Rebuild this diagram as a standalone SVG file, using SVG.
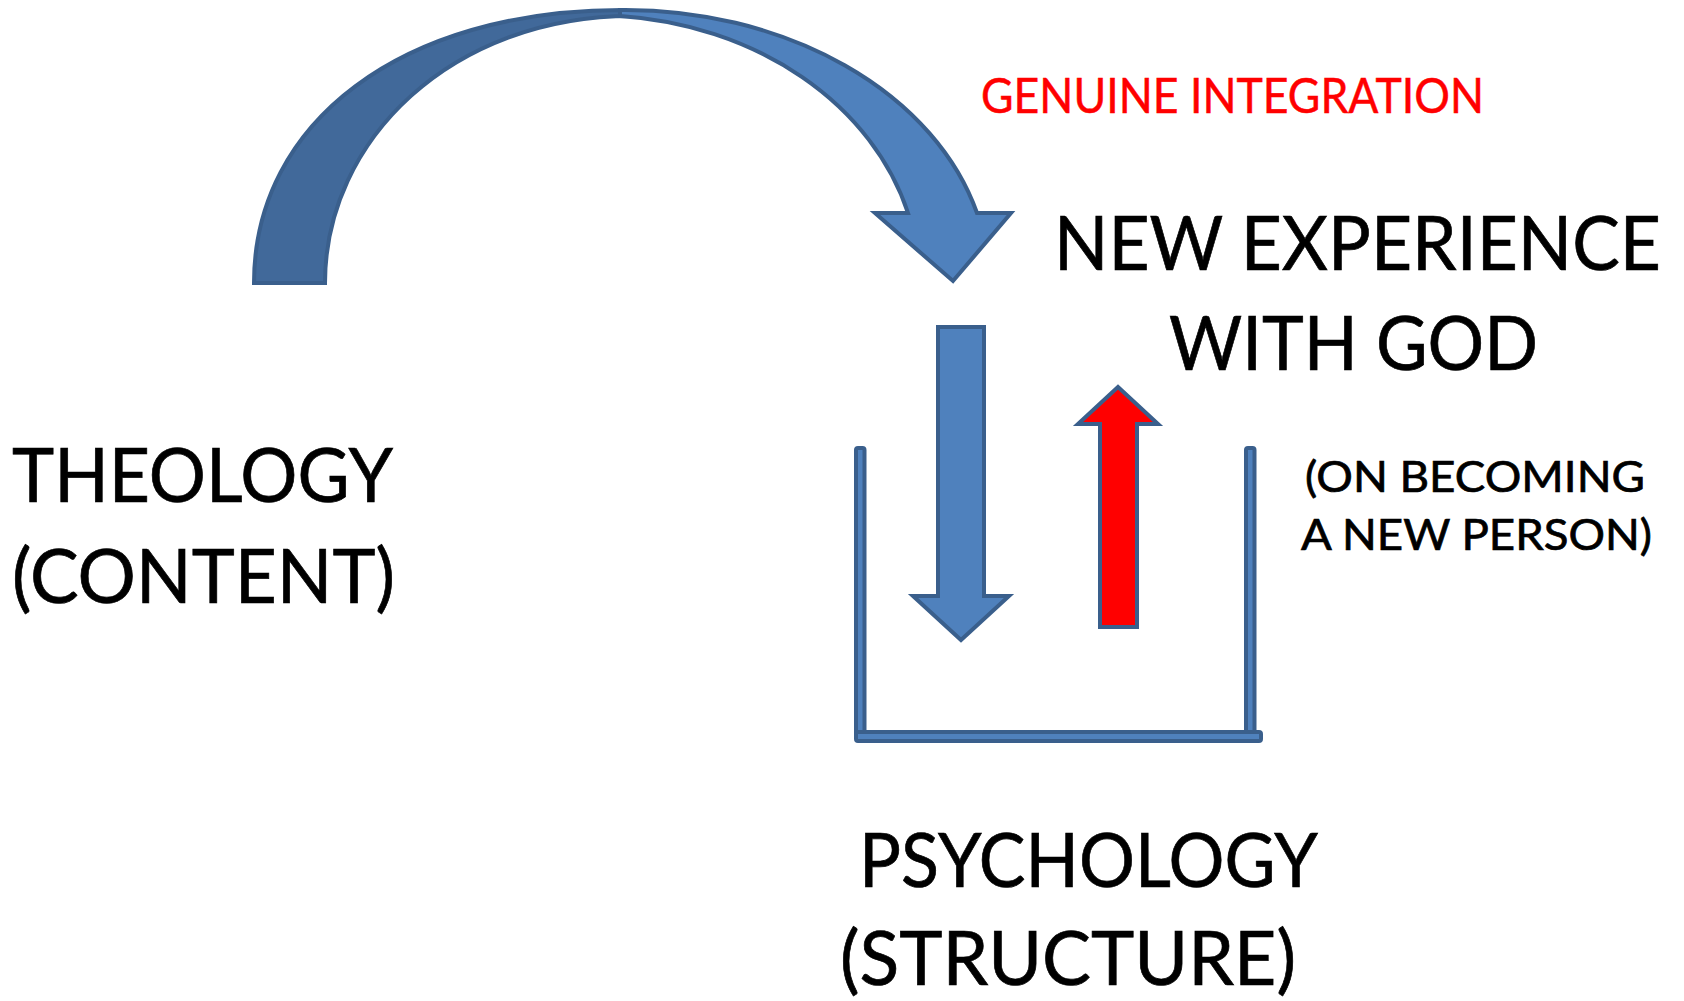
<svg xmlns="http://www.w3.org/2000/svg" width="1684" height="1001" viewBox="0 0 1684 1001">
<style>
.shape{stroke:#3A5F8C;stroke-width:4;stroke-linejoin:miter}
.blue{fill:#4F81BD}
.shade{fill:#41699A}
.red{fill:#FF0000}
.t{font-family:Lato,"Open Sans","Liberation Sans",sans-serif;fill:#000;stroke:#000;stroke-width:0.7}
.big{font-size:76px}
.mid{font-size:47.5px}
.small{font-size:43px}
.genuine{fill:#FF0000;stroke:#FF0000;stroke-width:0.5}
</style>
<rect width="1684" height="1001" fill="#FFFFFF"/>
<g id="connectors">
  <g id="curved-arrow">
    <path class="shape shade" d="M254,283 C254,122 402,10 622,10 L632,16 C452,16 325,140 325,283 Z"/>
    <path class="shape blue" d="M620,10 A364,273 0 0 1 977,213 L1011,213 L953,281 L875,213 L908,213 A325,268 0 0 0 620,16 Z"/>
  </g>
  <path id="down-arrow" class="shape blue" d="M938,327 H984 V596 H1009 L961,640 L913,596 H938 Z"/>
  <path id="up-arrow" class="shape red" d="M1100,627 V424 H1078 L1118,387 L1158,424 H1137 V627 Z"/>
</g>
<g id="container">
  <rect class="shape blue" x="856" y="448" width="8.5" height="288" rx="2"/>
  <rect class="shape blue" x="1246" y="448" width="8.5" height="288" rx="2"/>
  <rect class="shape blue" x="856" y="732" width="405" height="9" rx="2"/>
</g>
<g id="theology">
  <text class="t big" x="12" y="502" textLength="381" lengthAdjust="spacingAndGlyphs">THEOLOGY</text>
  <text class="t big" x="12" y="603" textLength="383" lengthAdjust="spacingAndGlyphs">(CONTENT)</text>
</g>
<g id="psychology">
  <text class="t big" x="859" y="887" textLength="459" lengthAdjust="spacingAndGlyphs">PSYCHOLOGY</text>
  <text class="t big" x="840" y="985" textLength="456" lengthAdjust="spacingAndGlyphs">(STRUCTURE)</text>
</g>
<g id="genuine-integration">
  <text class="t mid genuine" x="981" y="113" textLength="503" lengthAdjust="spacingAndGlyphs">GENUINE INTEGRATION</text>
</g>
<g id="new-experience">
  <text class="t big" x="1054" y="270" textLength="607" lengthAdjust="spacingAndGlyphs">NEW EXPERIENCE</text>
  <text class="t big" x="1169" y="370" textLength="369" lengthAdjust="spacingAndGlyphs">WITH GOD</text>
</g>
<g id="new-person">
  <text class="t small" x="1305" y="492" textLength="340" lengthAdjust="spacingAndGlyphs">(ON BECOMING</text>
  <text class="t small" x="1301" y="550" textLength="351" lengthAdjust="spacingAndGlyphs">A NEW PERSON)</text>
</g>
</svg>
